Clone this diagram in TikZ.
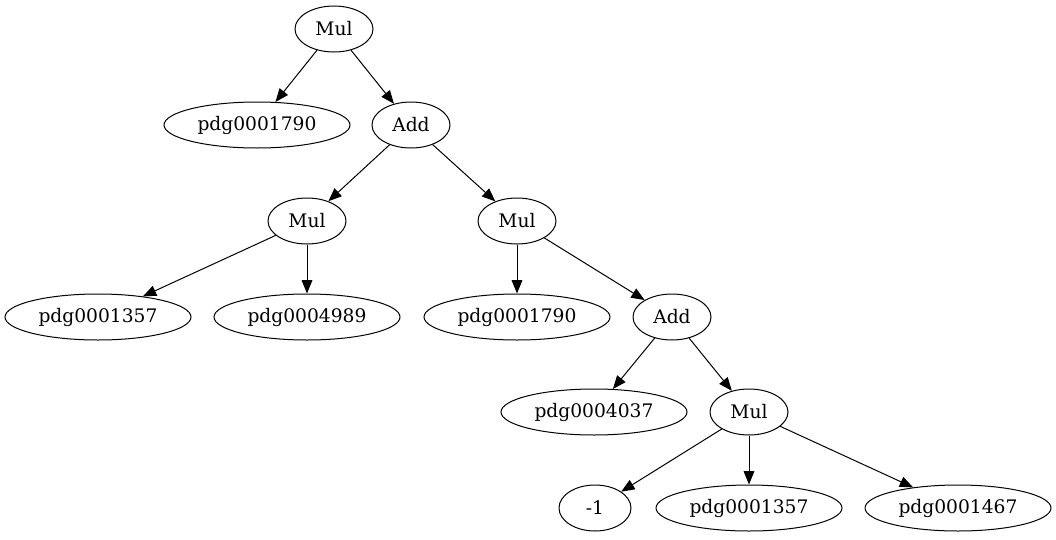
\documentclass[tikz,border=0pt]{standalone}
\usepackage{fontspec}
\setmainfont{DejaVu Serif}
\usetikzlibrary{shapes.geometric,arrows.meta}

\begin{document}
\begin{tikzpicture}[
    x=0.75pt, y=-0.75pt,
    >={Triangle[length=10pt,width=8pt]},
    every node/.style={font=\fontsize{14}{16}\selectfont},
    opnode/.style={
        draw, ellipse, inner sep=0pt, line width=0.75pt,
        minimum width=58.5pt, minimum height=34.5pt
    },
    varnode/.style={
        draw, ellipse, inner sep=0pt, line width=0.75pt,
        minimum width=139.5pt, minimum height=34.5pt
    },
    constnode/.style={
        draw, ellipse, inner sep=0pt, line width=0.75pt,
        minimum width=54pt, minimum height=34.5pt
    },
    edge/.style={->, line width=0.75pt}
]

\useasboundingbox (0,0) rectangle (1056,539);

% Ebene 0
\node[opnode] (mulA) at (334, 29) {Mul};

% Ebene 1
\node[varnode] (pdgA) at (257, 125) {pdg0001790};
\node[opnode]  (addA) at (411, 125) {Add};

% Ebene 2
\node[opnode] (mulB) at (307, 221) {Mul};
\node[opnode] (mulC) at (517, 221) {Mul};

% Ebene 3
\node[varnode] (pdgB) at (98, 317)  {pdg0001357};
\node[varnode] (pdgC) at (307, 317) {pdg0004989};
\node[varnode] (pdgD) at (517, 317) {pdg0001790};
\node[opnode]  (addB) at (672, 317) {Add};

% Ebene 4
\node[varnode] (pdgE) at (594, 412) {pdg0004037};
\node[opnode]  (mulD) at (749, 412) {Mul};

% Ebene 5
\node[constnode] (neg)  at (595, 508) {-1};
\node[varnode]   (pdgF) at (749, 508) {pdg0001357};
\node[varnode]   (pdgG) at (958, 508) {pdg0001467};

% Kanten
\draw[edge] (mulA) -- (pdgA);
\draw[edge] (mulA) -- (addA);
\draw[edge] (addA) -- (mulB);
\draw[edge] (addA) -- (mulC);
\draw[edge] (mulB) -- (pdgB);
\draw[edge] (mulB) -- (pdgC);
\draw[edge] (mulC) -- (pdgD);
\draw[edge] (mulC) -- (addB);
\draw[edge] (addB) -- (pdgE);
\draw[edge] (addB) -- (mulD);
\draw[edge] (mulD) -- (neg);
\draw[edge] (mulD) -- (pdgF);
\draw[edge] (mulD) -- (pdgG);

\end{tikzpicture}
\end{document}
